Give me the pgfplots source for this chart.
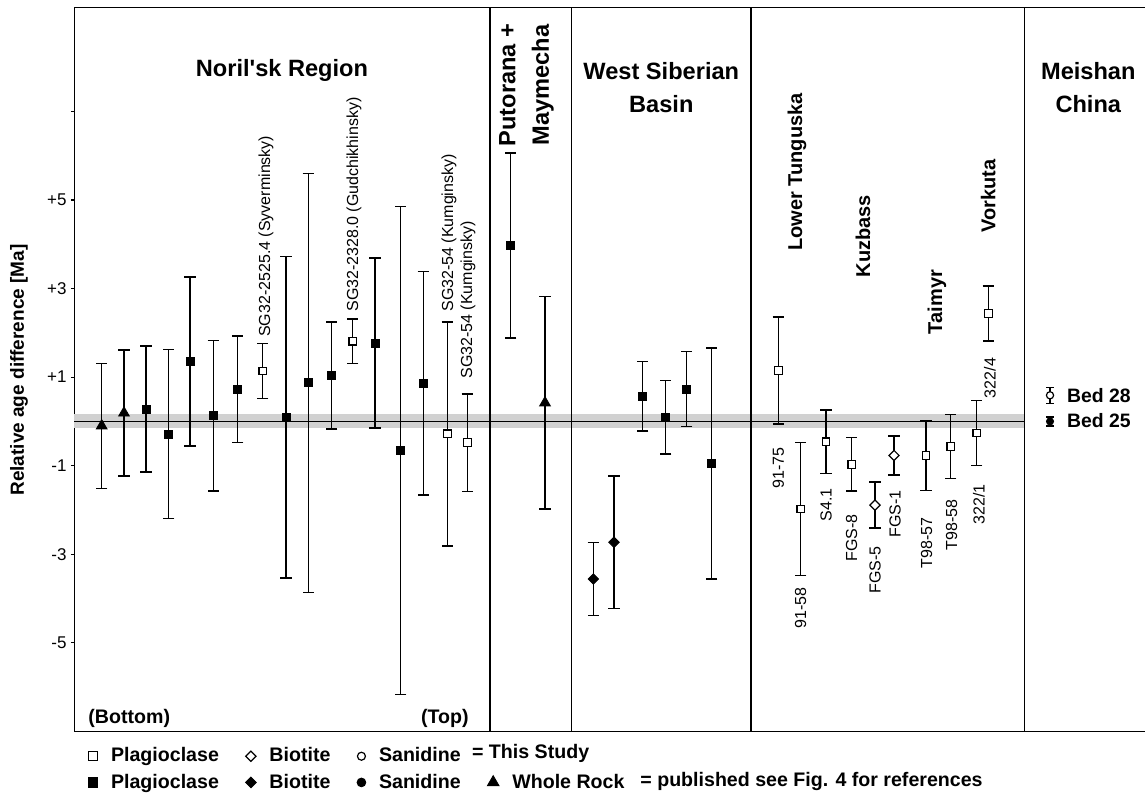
\documentclass[border=0pt]{standalone}
\usepackage{fontspec}
\setmainfont{Liberation Sans}
\usepackage{pgfplots}
\usepackage{pgfplotstable}
\pgfplotsset{compat=1.18}

% x = horizontal position of the sample column, y = relative age [Ma], e = error
\pgfplotstableread{
x y e
101.7 -0.10 1.41
124.0 0.19 1.42
545.0 0.42 2.40
}\wholerock

\pgfplotstableread{
x y e
146.0 0.28 1.42
168.7 -0.29 1.91
190.0 1.35 1.91
213.3 0.13 1.70
237.7 0.73 1.20
286.0 0.09 3.63
308.3 0.87 4.73
331.7 1.04 1.21
375.0 1.77 1.92
400.7 -0.66 5.51
423.3 0.86 2.52
510.7 3.97 2.09
642.7 0.57 0.79
665.7 0.09 0.83
686.7 0.73 0.85
711.7 -0.95 2.61
}\plagpub

\pgfplotstableread{
x y e
593.3 -3.56 0.82
614.0 -2.73 1.50
}\biopub

\pgfplotstableread{
x y e
262.7 1.14 0.62
352.7 1.81 0.50
447.3 -0.28 2.53
467.3 -0.48 1.10
778.3 1.15 1.21
800.7 -1.98 1.50
826.0 -0.46 0.72
851.7 -0.97 0.60
926.0 -0.77 0.79
950.7 -0.57 0.72
976.7 -0.26 0.73
988.3 2.44 0.62
}\plagnew

\pgfplotstableread{
x y e
875.0 -1.89 0.52
894.0 -0.77 0.44
}\bionew

\pgfplotstableread{
x y e
1050.0 0.59 0.18
}\bedtwentyeight

\pgfplotstableread{
x y e
1050.0 0.00 0.10
}\bedtwentyfive

\newcommand{\hfont}{\fontsize{11.8}{16.8}\selectfont\bfseries}
\newcommand{\sfont}{\fontsize{10}{12}\selectfont\bfseries}
\newcommand{\smp}{\fontsize{8}{9.6}\selectfont}
\newcommand{\lfont}{\fontsize{9.8}{11}\selectfont\bfseries}

\pgfplotsset{
  pubsq/.style={only marks, mark=square*, mark size=2pt, mark options={fill=black, draw=black}},
  newsq/.style={only marks, mark=square*, mark size=1.9pt, mark options={fill=white, draw=black, line width=0.6pt}},
  pubdi/.style={only marks, mark=square*, mark size=1.85pt, mark options={rotate=45, fill=black, draw=black}},
  newdi/.style={only marks, mark=square*, mark size=1.8pt, mark options={rotate=45, fill=white, draw=black, line width=0.6pt}},
  pubtri/.style={only marks, mark=triangle*, mark size=3.1pt, mark options={fill=black, draw=black}},
  pubci/.style={only marks, mark=*, mark size=1.8pt, mark options={fill=black, draw=black}},
  newci/.style={only marks, mark=*, mark size=1.8pt, mark options={fill=white, draw=black, line width=0.6pt}},
  ebar/.style={
    /pgfplots/error bars/y dir=both,
    /pgfplots/error bars/y explicit,
    /pgfplots/error bars/error bar style={line width=0.7pt, black},
    /pgfplots/error bars/error mark options={rotate=90, mark size=2.8pt, line width=0.7pt, black}},
  smallbar/.style={
    /pgfplots/error bars/y dir=both,
    /pgfplots/error bars/y explicit,
    /pgfplots/error bars/error bar style={line width=0.7pt, black},
    /pgfplots/error bars/error mark options={rotate=90, mark size=1.8pt, line width=0.7pt, black}},
}

\begin{document}
\begin{tikzpicture}
\useasboundingbox (0,0) rectangle (572.5pt,397.5pt);
\begin{axis}[
  at={(37.15pt,31.85pt)}, anchor=south west,
  scale only axis, width=537.85pt, height=361.9pt,
  xmin=74.3, xmax=1150, ymin=-7, ymax=9.35,
  clip=false,
  xtick=\empty,
  ytick={-5,-3,-1,1,3,5,7},
  yticklabels={-5,-3,-1,+1,+3,+5,{}},
  ytick pos=left, tick align=outside, major tick length=1.7pt,
  tick style={black, line width=0.6pt},
  axis line style={black, line width=0.75pt},
  yticklabel style={font=\fontsize{8.5}{10}\selectfont, inner sep=0pt, xshift=-2pt},
  legend image code/.code={\draw[#1] plot coordinates {(0pt,0pt)};},
  legend columns=4,
  legend style={at={(0.01260,-0.0165)}, anchor=north west, draw=none, fill=none,
    inner sep=0pt, font=\lfont, cells={anchor=west},
    /tikz/every odd column/.append style={column sep=4.6pt},
    /tikz/every even column/.append style={column sep=11.3pt},
    /tikz/column 6/.append style={column sep=20pt},
    row sep=0.5pt},
]
% reference band and zero line
\addplot[draw=none, fill=black!18, forget plot] coordinates {(74.3,-0.16) (1024.3,-0.16) (1024.3,0.16) (74.3,0.16)} -- cycle;
\addplot[black, line width=0.65pt, forget plot] coordinates {(74.3,0) (1024.3,0)};
% region dividers
\addplot[black, line width=0.7pt, forget plot] coordinates {(490,-7) (490,9.35)};
\addplot[black, line width=0.7pt, forget plot] coordinates {(571.7,-7) (571.7,9.35)};
\addplot[black, line width=0.7pt, forget plot] coordinates {(751,-7) (751,9.35)};
\addplot[black, line width=0.7pt, forget plot] coordinates {(1024.3,-7) (1024.3,9.35)};

% samples
\addplot[pubtri, ebar, forget plot] table[x=x, y=y, y error=e] {\wholerock};
\addplot[pubsq, ebar, forget plot] table[x=x, y=y, y error=e] {\plagpub};
\addplot[pubdi, ebar, forget plot] table[x=x, y=y, y error=e] {\biopub};
\addplot[newsq, ebar, forget plot] table[x=x, y=y, y error=e] {\plagnew};
\addplot[newdi, ebar, forget plot] table[x=x, y=y, y error=e] {\bionew};
\addplot[newci, smallbar, forget plot] table[x=x, y=y, y error=e] {\bedtwentyeight};
\addplot[pubci, smallbar, forget plot] table[x=x, y=y, y error=e] {\bedtwentyfive};

% legend
\addlegendimage{only marks, mark=square*, mark size=2.3pt, mark options={fill=white, draw=black, line width=0.6pt}}\addlegendentry{Plagioclase}
\addlegendimage{only marks, mark=square*, mark size=1.8pt, mark options={rotate=45, fill=white, draw=black, line width=0.6pt}}\addlegendentry{Biotite}
\addlegendimage{only marks, mark=*, mark size=2pt, mark options={fill=white, draw=black, line width=0.6pt}}\addlegendentry{Sanidine}
\addlegendimage{empty legend}\addlegendentry{}
\addlegendimage{only marks, mark=square*, mark size=2.4pt, mark options={fill=black, draw=black}}\addlegendentry{Plagioclase}
\addlegendimage{only marks, mark=square*, mark size=1.9pt, mark options={rotate=45, fill=black, draw=black}}\addlegendentry{Biotite}
\addlegendimage{only marks, mark=*, mark size=2.2pt, mark options={fill=black, draw=black}}\addlegendentry{Sanidine}
\addlegendimage{only marks, mark=triangle*, mark size=3.4pt, mark options={fill=black, draw=black}}\addlegendentry{Whole Rock}

% region headings
\node[font=\hfont] at (axis cs:282,7.921) {Noril\textquotesingle sk Region};
\node[font=\hfont, align=center, rotate=90] at (axis cs:526.5,7.60) {Putorana +\\Maymecha};
\node[font=\hfont, align=center] at (axis cs:661.3,7.541) {West Siberian\\Basin};
\node[font=\hfont, align=center] at (axis cs:1088.3,7.541) {Meishan\\China};

\node[font=\sfont, rotate=90] at (axis cs:797,5.632) {Lower Tunguska};
\node[font=\sfont, rotate=90] at (axis cs:863,4.187) {Kuzbass};
\node[font=\sfont, rotate=90] at (axis cs:937,2.696) {Taimyr};
\node[font=\sfont, rotate=90] at (axis cs:988.3,5.090) {Vorkuta};

% sample names
\node[font=\smp, rotate=90, anchor=west, inner sep=0pt] at (axis cs:266,1.905) {SG32-2525.4 (Syverminsky)};
\node[font=\smp, rotate=90, anchor=west, inner sep=0pt] at (axis cs:354,2.470) {SG32-2328.0 (Gudchikhinsky)};
\node[font=\smp, rotate=90, anchor=west, inner sep=0pt] at (axis cs:449,2.470) {SG32-54 (Kumginsky)};
\node[font=\smp, rotate=90, anchor=west, inner sep=0pt] at (axis cs:468,0.957) {SG32-54 (Kumginsky)};

\node[font=\smp, rotate=90] at (axis cs:778.3,-1.054) {91-75};
\node[font=\smp, rotate=90] at (axis cs:800.7,-4.217) {91-58};
\node[font=\smp, rotate=90] at (axis cs:826,-1.890) {S4.1};
\node[font=\smp, rotate=90] at (axis cs:851.7,-2.635) {FGS-8};
\node[font=\smp, rotate=90] at (axis cs:875,-3.358) {FGS-5};
\node[font=\smp, rotate=90] at (axis cs:895,-2.093) {FGS-1};
\node[font=\smp, rotate=90] at (axis cs:926.7,-2.748) {T98-57};
\node[font=\smp, rotate=90] at (axis cs:951.7,-2.342) {T98-58};
\node[font=\smp, rotate=90] at (axis cs:979,-1.878) {322/1};
\node[font=\smp, rotate=90] at (axis cs:990,0.979) {322/4};

\node[font=\fontsize{9.8}{11}\selectfont\bfseries, anchor=west, inner sep=0pt] at (axis cs:88,-6.701) {(Bottom)};
\node[font=\fontsize{9.8}{11}\selectfont\bfseries, anchor=east, inner sep=0pt] at (axis cs:469,-6.701) {(Top)};

\node[font=\fontsize{9.7}{11}\selectfont\bfseries, anchor=west, inner sep=0pt] at (axis cs:1066.7,0.58) {Bed 28};
\node[font=\fontsize{9.7}{11}\selectfont\bfseries, anchor=west, inner sep=0pt] at (axis cs:1066.7,0.01) {Bed 25};

\node[font=\fontsize{9.5}{11}\selectfont\bfseries, rotate=90] at (axis cs:19,1.16) {Relative age difference [Ma]};

\node[font=\lfont, anchor=west, inner sep=0pt] at (axis cs:471.7,-7.50) {= This Study};
\node[font=\lfont, anchor=west, inner sep=0pt] at (axis cs:640,-8.14) {= published see Fig. 4 for references};
\end{axis}
\end{tikzpicture}
\end{document}
